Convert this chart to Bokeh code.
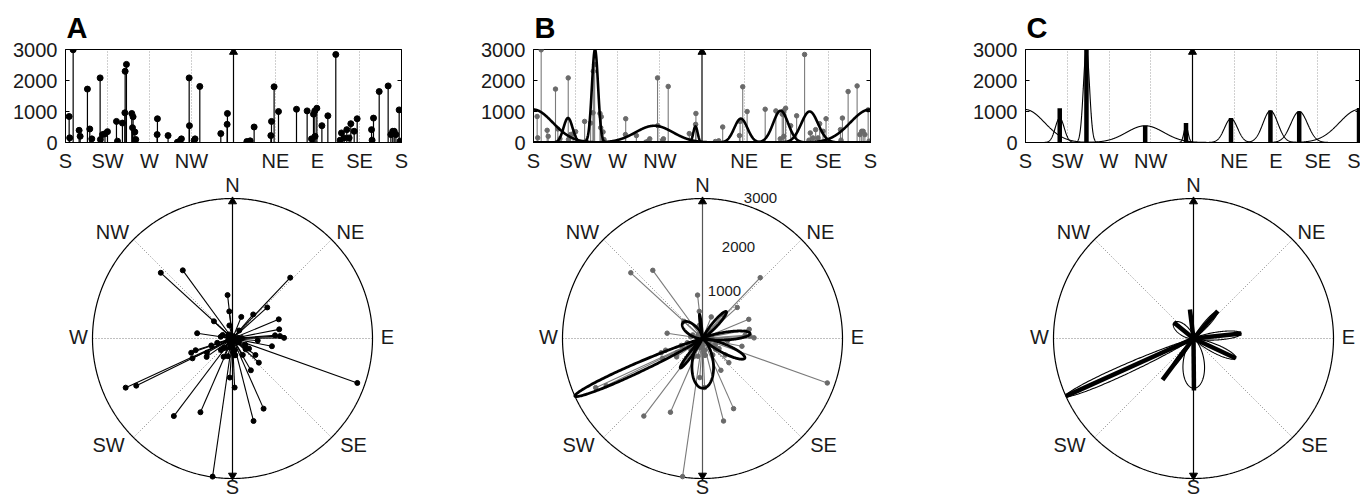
import numpy as np
from bokeh.plotting import figure
from bokeh.models import Range1d, FixedTicker, LinearAxis, CustomJSTickFormatter
from bokeh.layouts import row, column
from bokeh.embed import file_html
from bokeh.resources import INLINE
from bokeh.core.properties import value

# ---------------- data ----------------
# observed directions (compass bearing, degrees) and magnitudes
bearing = [183.9, 184.5, 188.2, 194.6, 195.7, 203.5, 206.0, 208.2, 217.1, 217.4,
           219.6, 222.3, 225.0, 234.6, 235.7, 241.0, 243.9, 245.3, 243.6, 251.0,
           252.4, 251.8, 254.3, 255.3, 278.5, 278.2, 289.9, 299.9, 302.4, 304.2,
           312.5, 312.8, 317.8, 318.8, 323.9, 346.4, 353.5, 353.2, 14.3, 17.9,
           22.1, 40.0, 40.7, 43.5, 48.2, 67.5, 78.9, 83.6, 85.7, 87.1,
           87.4, 89.3, 94.7, 101.1, 109.6, 114.3, 115.7, 118.5, 121.4, 123.9,
           125.7, 129.3, 132.5, 147.9, 148.5, 150.0, 156.1, 165.7, 168.6, 170.6,
           172.2, 174.0, 177.5, 178.5]
magnitude = [839, 150, 2990, 393, 200, 1723, 436, 117, 2084, 96,
             255, 280, 350, 680, 43, 627, 2297, 2520, 957, 936,
             829, 478, 340, 96, 766, 255, 223, 10, 43, 117,
             2084, 542, 64, 117, 1808, 287, 936, 585, 32, 53,
             500, 223, 680, 1797, 999, 1073, 1020, 117, 914, 1020,
             200, 1105, 542, 861, 2839, 75, 308, 149, 415, 149,
             606, 362, 766, 415, 75, 787, 1644, 1825, 255, 362,
             362, 255, 1052, 43]

# fitted directional components
comp_mean = [179.5, 216.9, 245.7, 309.0, 353.0, 41.5, 84.0, 115.0]
comp_peak = [1065, 790, 3000, 540, 520, 770, 1025, 1000]
comp_sd = [21.0, 4.8, 3.3, 20.0, 2.3, 7.0, 8.0, 9.0]
comp_bar = [1116, 1106, 3000, 542, 628, 787, 1031, 999]

tick_pos = [180, 225, 270, 315, 405, 450, 495, 540]
tick_lab = ["S", "SW", "W", "NW", "NE", "E", "SE", "S"]
grid_pos = [225, 270, 315, 405, 450, 495]
y_ticks = [0, 1000, 2000, 3000]

compass_names = ["N", "NE", "E", "SE", "S", "SW", "W", "NW"]
# label placement (pixel offsets from the polar centre)
compass_px = [(0, 154), (118, 107), (155, 2), (121, -106), (0, -148), (-124, -106), (-154, 2), (-120, 107)]
ring_labels = ["1000", "2000", "3000"]
ring_px = [(22, 48), (36, 92), (58, 141)]

FONT = "Liberation Sans"
TXT = "#1a1a1a"
RMAX = y_ticks[-1]
K = RMAX / 140.0          # data units per pixel in the polar plots
TOP_H, POL_H = 174, 326
FR_TOP, FR_H = 49, 94


def unwrap(b):
    b = np.asarray(b, dtype=float)
    return np.where(b < 180, b + 360, b)


def wrapdiff(a, m):
    return (np.asarray(a) - m + 180.0) % 360.0 - 180.0


def top_fig(width, left, fw, letter):
    right = width - left - fw
    p = figure(width=width, height=TOP_H, x_range=Range1d(180, 540), y_range=Range1d(0, RMAX),
               output_backend="svg", toolbar_location=None, title=letter,
               min_border_left=left, min_border_right=right, min_border_top=FR_TOP,
               min_border_bottom=TOP_H - FR_TOP - FR_H)
    p.title.text_font = FONT
    p.title.text_font_size = "29px"
    p.title.text_font_style = "bold"
    p.title.text_color = "black"
    p.title.align = "left"
    p.title.offset = 1
    p.title.standoff = 11
    p.background_fill_color = "white"
    p.outline_line_color = "black"
    p.outline_line_width = 1
    xa = p.xaxis[0]
    xa.ticker = FixedTicker(ticks=tick_pos)
    xa.major_label_overrides = {t: l for t, l in zip(tick_pos, tick_lab)}
    xa.major_tick_line_color = None
    xa.minor_tick_line_color = None
    xa.major_label_standoff = 1
    xa.major_label_text_font = FONT
    xa.major_label_text_font_size = "20px"
    xa.major_label_text_color = TXT
    ya = p.yaxis[0]
    ya.ticker = FixedTicker(ticks=y_ticks)
    ya.major_tick_in = 4
    ya.major_tick_out = 0
    ya.minor_tick_line_color = None
    ya.major_label_standoff = 8
    ya.major_label_text_font = FONT
    ya.major_label_text_font_size = "20px"
    ya.major_label_text_color = TXT
    ra = LinearAxis(ticker=FixedTicker(ticks=y_ticks), major_tick_in=4, major_tick_out=0,
                    minor_tick_line_color=None, major_label_standoff=0,
                    major_label_text_font_size="1px",
                    formatter=CustomJSTickFormatter(code="return ''"))
    p.add_layout(ra, "right")
    p.xgrid.ticker = FixedTicker(ticks=grid_pos)
    p.xgrid.grid_line_color = "#a0a0a0"
    p.xgrid.grid_line_dash = "1 2"
    p.ygrid.grid_line_color = None
    nx = float(unwrap([0])[0])
    p.segment(x0=[nx], y0=[0], x1=[nx], y1=[RMAX], line_color="black", line_width=1.2)
    p.scatter(x=[nx], y=[RMAX - 2.5 * RMAX / FR_H], marker="triangle", size=8, color="black")
    return p


def polar_fig(width, cx, cy_top=164):
    p = figure(width=width, height=POL_H,
               x_range=Range1d(-cx * K, (width - cx) * K),
               y_range=Range1d(-(POL_H - cy_top) * K, cy_top * K),
               output_backend="svg", toolbar_location=None, min_border=0,
               min_border_left=0, min_border_right=0, min_border_top=0, min_border_bottom=0,
               x_axis_location=None, y_axis_location=None)
    p.grid.visible = False
    p.outline_line_color = None
    p.background_fill_color = "white"
    for b in (90, 45, 135):
        t = np.radians(b)
        p.segment(x0=[-RMAX * np.sin(t)], y0=[-RMAX * np.cos(t)], x1=[RMAX * np.sin(t)], y1=[RMAX * np.cos(t)],
                  line_color="#808080", line_dash="1 2", line_width=1)
    th = np.radians(np.linspace(0, 360, 721))
    p.line(RMAX * np.sin(th), RMAX * np.cos(th), line_color="black", line_width=1.2)
    lx = [dx * K for dx, dy in compass_px]
    ly = [dy * K for dx, dy in compass_px]
    p.text(x=lx, y=ly, text=compass_names, text_align="center", text_baseline="middle",
           text_font=value(FONT), text_font_size="20px", text_color=TXT)
    return p


def add_ns(p, color):
    p.segment(x0=[0], y0=[-RMAX], x1=[0], y1=[RMAX], line_color=color, line_width=1.2)
    p.scatter(x=[0], y=[RMAX - 3 * K], marker="triangle", size=8, color="black")
    p.scatter(x=[0], y=[-RMAX + 3 * K], marker="inverted_triangle", size=8, color="black")


def lobes(mu_list, amp_list, sd_list):
    xs, ys = [], []
    for mu, a, s in zip(mu_list, amp_list, sd_list):
        half = min(5 * s, 179)
        t = np.linspace(mu - half, mu + half, 400)
        r = a * np.exp(-wrapdiff(t, mu) ** 2 / (2 * s * s))
        tr = np.radians(t)
        xs.append(np.concatenate([[0], r * np.sin(tr), [0]]))
        ys.append(np.concatenate([[0], r * np.cos(tr), [0]]))
    return xs, ys


def curves():
    xg = np.linspace(180, 540, 1441)
    xs, ys = [], []
    for mu, a, s in zip(comp_mean, comp_peak, comp_sd):
        xs.append(xg)
        ys.append(a * np.exp(-wrapdiff(xg, mu) ** 2 / (2 * s * s)))
    return xs, ys


bx = unwrap(bearing)
br = np.radians(bearing)
px = np.array(magnitude) * np.sin(br)
py = np.array(magnitude) * np.cos(br)

# ---------------- panel A ----------------
ta = top_fig(470, 65, 336, "A")
ta.segment(x0=bx, y0=0, x1=bx, y1=magnitude, line_color="black", line_width=1.2)
ta.scatter(x=bx, y=magnitude, size=6, color="black")

pa = polar_fig(470, 232)
add_ns(pa, "black")
pa.segment(x0=0, y0=0, x1=px, y1=py, line_color="black", line_width=1.1)
pa.scatter(x=px, y=py, size=5, color="black")

# ---------------- panel B ----------------
GR = "#7a7a7a"
tb = top_fig(485, 63, 337, "B")
tb.segment(x0=bx, y0=0, x1=bx, y1=magnitude, line_color=GR, line_width=1.1)
tb.scatter(x=bx, y=magnitude, size=4.5, color="#6a6a6a")
cx_, cy_ = curves()
tb.multi_line(xs=cx_, ys=cy_, line_color="black", line_width=2.6, line_join="round")

pb = polar_fig(485, 232)
add_ns(pb, "#555555")
pb.segment(x0=0, y0=0, x1=px, y1=py, line_color=GR, line_width=1.1)
pb.scatter(x=px, y=py, size=4.5, color="#6a6a6a")
lx_, ly_ = lobes(comp_mean, comp_peak, comp_sd)
pb.multi_line(xs=lx_, ys=ly_, line_color="black", line_width=2.8, line_join="round")
pb.text(x=[dx * K for dx, dy in ring_px], y=[dy * K for dx, dy in ring_px], text=ring_labels,
        text_align="center", text_baseline="middle", text_font=value(FONT),
        text_font_size="15px", text_color=TXT)

# ---------------- panel C ----------------
tc = top_fig(405, 70, 334, "C")
tc.multi_line(xs=cx_, ys=cy_, line_color="black", line_width=1.1)
mx = unwrap(comp_mean)
tc.segment(x0=mx, y0=0, x1=mx, y1=comp_bar, line_color="black", line_width=4.5)

pc = polar_fig(405, 238)
add_ns(pc, "black")
pc.multi_line(xs=lx_, ys=ly_, line_color="black", line_width=1.1)
cr = np.radians(comp_mean)
pc.segment(x0=0, y0=0, x1=np.array(comp_bar) * np.sin(cr), y1=np.array(comp_bar) * np.cos(cr),
           line_color="black", line_width=4.5)

layout = column(row(ta, tb, tc, spacing=0), row(pa, pb, pc, spacing=0), spacing=0)
open("out.html", "w").write(file_html(layout, INLINE))
